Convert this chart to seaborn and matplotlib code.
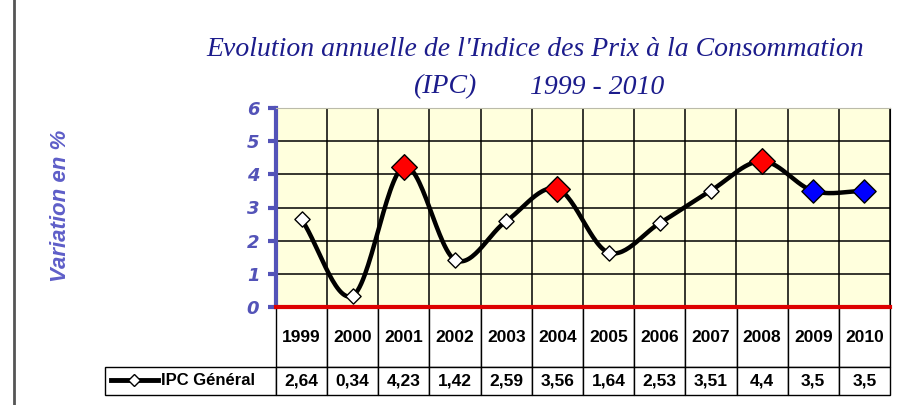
import numpy as np
import pandas as pd
import matplotlib
matplotlib.use("Agg")
import matplotlib.pyplot as plt
import seaborn as sns
from matplotlib.lines import Line2D

years = ["1999", "2000", "2001", "2002", "2003", "2004",
         "2005", "2006", "2007", "2008", "2009", "2010"]
ipc = [2.64, 0.34, 4.23, 1.42, 2.59, 3.56, 1.64, 2.53, 3.51, 4.4, 3.5, 3.5]
marker_colors = ["white", "white", "red", "white", "white", "red",
                 "white", "white", "white", "red", "blue", "blue"]
ipc_labels = [f"{v:g}".replace(".", ",") for v in ipc]
y_ticks = [0, 1, 2, 3, 4, 5, 6]


def smooth(xs, ys, n=30):
    # Catmull-Rom spline, similar to Excel's smoothed line
    px = np.concatenate([[2 * xs[0] - xs[1]], xs, [2 * xs[-1] - xs[-2]]])
    py = np.concatenate([[2 * ys[0] - ys[1]], ys, [2 * ys[-1] - ys[-2]]])
    out_x, out_y = [], []
    t = np.linspace(0, 1, n, endpoint=False)
    for i in range(1, len(px) - 2):
        for p, out in ((px, out_x), (py, out_y)):
            p0, p1, p2, p3 = p[i - 1], p[i], p[i + 1], p[i + 2]
            out.extend(0.5 * (2 * p1 + (-p0 + p2) * t
                              + (2 * p0 - 5 * p1 + 4 * p2 - p3) * t ** 2
                              + (-p0 + 3 * p1 - 3 * p2 + p3) * t ** 3))
    out_x.append(xs[-1])
    out_y.append(ys[-1])
    return pd.DataFrame({"x": out_x, "y": out_y})


xpos = np.arange(len(years), dtype=float)
curve = smooth(xpos, np.array(ipc))
pts = pd.DataFrame({"x": xpos, "y": ipc, "c": marker_colors})

blue_txt = "#5353B8"
fig = plt.figure(figsize=(9.04, 4.05), dpi=100)
ax = fig.add_axes([276 / 904, 1 - 307 / 405, 614 / 904, 199 / 405])
ax.set_facecolor("#FFFFDD")

sns.lineplot(data=curve, x="x", y="y", sort=False, color="black", lw=3.2, ax=ax, zorder=3)
for c, size in (("white", 60), ("red", 170), ("blue", 140)):
    sub = pts[pts["c"] == c]
    sns.scatterplot(data=sub, x="x", y="y", marker="D", s=size, color=c,
                    edgecolor="black", linewidth=1, ax=ax, zorder=4)

ax.set_xlim(-0.5, len(years) - 0.5)
ax.set_ylim(0, 6)
ax.set_xticks(xpos)
ax.set_xticks(np.arange(-0.5, len(years)), minor=True)
ax.set_xticklabels([])
ax.tick_params(axis="x", which="both", length=0)
ax.set_yticks(y_ticks)
ax.set_yticklabels([str(v) for v in y_ticks], fontsize=13, fontweight="bold",
                   fontstyle="italic", color=blue_txt)
ax.tick_params(axis="y", direction="out", length=6, width=3, color=blue_txt, pad=6)
ax.grid(axis="y", color="black", lw=1.1, zorder=1)
ax.grid(axis="x", which="minor", color="black", lw=1.1, zorder=1)
ax.set_axisbelow(True)
ax.set_xlabel("")
ax.set_ylabel("")
ax.spines["left"].set_color(blue_txt)
ax.spines["left"].set_linewidth(3)
ax.spines["bottom"].set_color("#DD0000")
ax.spines["bottom"].set_linewidth(3)
ax.spines["bottom"].set_zorder(5)
ax.spines["top"].set_color("#BBBBAA")
ax.spines["right"].set_color("black")

fig.text(60 / 904, 1 - 206 / 405, "Variation en %", rotation=90, ha="center", va="center",
         fontsize=16, fontweight="bold", fontstyle="italic", color="#5E5EC8",
         family="Liberation Sans")

title_font = dict(family="Liberation Serif", fontstyle="italic", color="#1C1C8C",
                  fontsize=20, ha="center", va="center")
fig.text(535 / 904, 1 - 50 / 405, "Evolution annuelle de l'Indice des Prix à la Consommation",
         **title_font)
fig.text(445 / 904, 1 - 87 / 405, "(IPC)", **title_font)
fig.text(597 / 904, 1 - 87 / 405, "1999 - 2010", **title_font)

# data table under the chart: first column holds the legend key
left_w = 171
col_w = 614 / len(years)
tb = ax.table(cellText=[[""] + ipc_labels], colLabels=[""] + years,
              colWidths=[left_w] + [col_w] * len(years), cellLoc="center",
              bbox=[-left_w / 614, -88 / 199, (614 + left_w) / 614, 88 / 199])
tb.auto_set_font_size(False)
tb.set_fontsize(12.5)
for (r, c), cell in tb.get_celld().items():
    cell.set_linewidth(1)
    cell.set_edgecolor("black")
    cell.set_facecolor("white")
    cell.set_height(60 if r == 0 else 28)
    cell.PAD = 0.02
    cell.get_text().set_fontweight("bold")
    cell.get_text().set_family("Liberation Sans")
    if r == 0 and c == 0:
        cell.set_edgecolor("none")
        cell.set_facecolor("none")

handle = Line2D([], [], color="black", lw=3.5, marker="D", markersize=6,
                markerfacecolor="white", markeredgecolor="black")
ax.legend([handle], ["IPC Général"], loc="center left",
          bbox_to_anchor=(6 / 614 - left_w / 614, -74 / 199), frameon=False,
          borderpad=0, borderaxespad=0, handlelength=2.8, handletextpad=0.2,
          prop=dict(size=12, weight="bold", family="Liberation Sans"))

fig.add_artist(Line2D([14 / 904, 14 / 904], [0, 1], color="#555555", lw=2))

fig.savefig("out.png", dpi=100)
